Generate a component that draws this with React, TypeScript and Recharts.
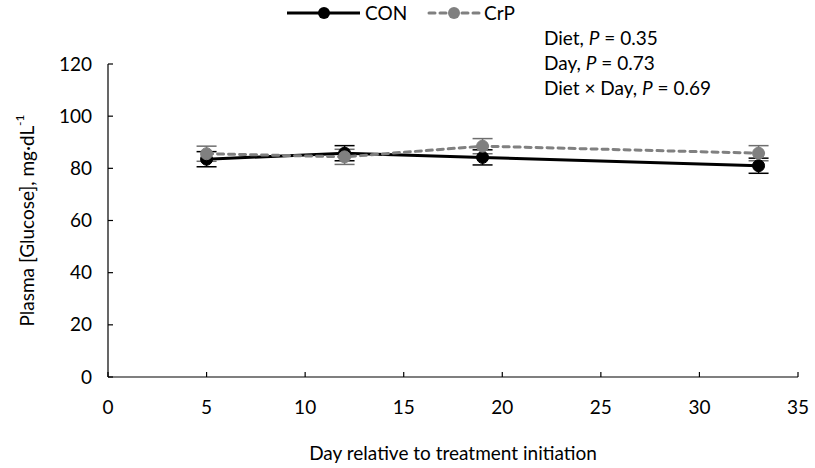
import React from 'react';
import { LineChart, Line, XAxis, YAxis, ErrorBar, Label } from 'recharts';

const days = [5, 12, 19, 33];
const conValues = [83.5, 85.8, 84.2, 81.0];
const crpValues = [85.6, 84.4, 88.5, 85.8];
const conErrors = [2.9, 2.9, 2.9, 2.9];
const crpErrors = [2.9, 2.9, 2.9, 2.9];
const xTicks = [0, 5, 10, 15, 20, 25, 30, 35];
const yTicks = [0, 20, 40, 60, 80, 100, 120];
const stats = [
  { label: 'Diet', p: '0.35' },
  { label: 'Day', p: '0.73' },
  { label: 'Diet × Day', p: '0.69' },
];

const FONT = 'Lato, "Open Sans", sans-serif';
const FS = 19;
const GRAY = '#808080';

const data = days.map((d, i) => ({
  day: d,
  con: conValues[i],
  crp: crpValues[i],
  conErr: conErrors[i],
  crpErr: crpErrors[i],
}));

const YTick = (props: any) => {
  const { x, y, payload } = props;
  return (
    <g>
      <line x1={x + 16} x2={x + 21} y1={y} y2={y} stroke="#000" strokeWidth={1.2} />
      <text x={x} y={y} dy="0.35em" textAnchor="end" fontSize={FS} fontFamily={FONT} fill="#000">
        {payload.value}
      </text>
    </g>
  );
};

const XTick = (props: any) => {
  const { x, y, payload } = props;
  return (
    <g>
      <line x1={x} x2={x} y1={y - 24} y2={y - 29} stroke="#000" strokeWidth={1.2} />
      <text x={x} y={y} dy="0.71em" textAnchor="middle" fontSize={FS} fontFamily={FONT} fill="#000">
        {payload.value}
      </text>
    </g>
  );
};

const YLabel = (props: any) => {
  const { viewBox } = props;
  const cx = viewBox.x - 22;
  const cy = viewBox.y + viewBox.height / 2;
  return (
    <text
      x={cx}
      y={cy}
      transform={`rotate(-90, ${cx}, ${cy})`}
      textAnchor="middle"
      dominantBaseline="central"
      fontSize={FS}
      fontFamily={FONT}
      fill="#000"
    >
      Plasma [Glucose], mg·dL<tspan fontSize={12} dy={-7}>-1</tspan>
    </text>
  );
};

const LegendOverlay = () => (
  <svg width={815} height={30} style={{ position: 'absolute', left: 0, top: 0 }}>
    <line x1={287} x2={360} y1={13} y2={13} stroke="#000" strokeWidth={3} />
    <circle cx={324} cy={13} r={6} fill="#000" />
    <text x={365} y={13} dy="0.35em" fontSize={FS} fontFamily={FONT} fill="#000">CON</text>
    <line x1={429} x2={480} y1={13} y2={13} stroke={GRAY} strokeWidth={3} strokeDasharray="6 5" strokeLinecap="round" />
    <circle cx={454} cy={13} r={6} fill={GRAY} />
    <text x={484} y={13} dy="0.35em" fontSize={FS} fontFamily={FONT} fill="#000">CrP</text>
  </svg>
);

const App: React.FC = () => (
  <div style={{ position: 'absolute', left: 0, top: 0, width: 815, height: 468, background: '#fff' }}>
    <LineChart width={815} height={468} data={data} margin={{ top: 64, right: 17, left: 48, bottom: 0 }}>
      <XAxis
        dataKey="day"
        type="number"
        domain={[0, 35]}
        ticks={xTicks}
        stroke="#000"
        strokeWidth={1.2}
        tickLine={false}
        tickSize={5}
        tickMargin={19}
        tick={<XTick />}
        height={91}
      >
        <Label
          value="Day relative to treatment initiation"
          position="insideBottom"
          offset={8}
          fontSize={FS}
          fontFamily={FONT}
          fill="#000"
        />
      </XAxis>
      <YAxis
        type="number"
        domain={[0, 120]}
        ticks={yTicks}
        stroke="#000"
        strokeWidth={1.2}
        tickLine={false}
        tickSize={5}
        tickMargin={11}
        tick={<YTick />}
        width={60}
      >
        <Label content={<YLabel />} />
      </YAxis>
      <Line
        dataKey="con"
        stroke="#000"
        strokeWidth={3}
        dot={{ r: 6, fill: '#000', stroke: '#000', strokeWidth: 1 }}
        isAnimationActive={false}
      >
        <ErrorBar dataKey="conErr" width={10} stroke="#000" strokeWidth={1.5} direction="y" />
      </Line>
      <Line
        dataKey="crp"
        stroke={GRAY}
        strokeWidth={3}
        strokeDasharray="6 5"
        strokeLinecap="round"
        dot={{ r: 6, fill: GRAY, stroke: GRAY, strokeWidth: 1, strokeDasharray: '' }}
        isAnimationActive={false}
      >
        <ErrorBar dataKey="crpErr" width={10} stroke="#6e6e6e" strokeWidth={1.5} direction="y" />
      </Line>
    </LineChart>
    <LegendOverlay />
    <div style={{ position: 'absolute', left: 544, top: 25, fontFamily: FONT, fontSize: FS, lineHeight: '25px', color: '#000' }}>
      {stats.map((s) => (
        <div key={s.label}>
          {s.label}, <i>P</i> = {s.p}
        </div>
      ))}
    </div>
  </div>
);

export default App;
